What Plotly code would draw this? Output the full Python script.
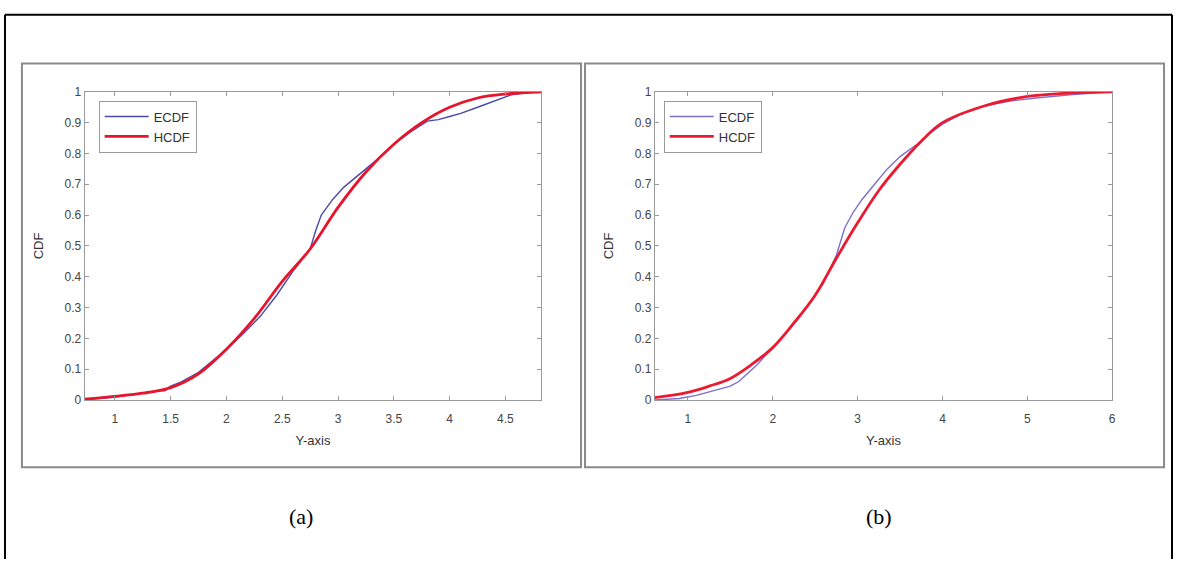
import plotly.graph_objects as go

# ---- data ----
a_hcdf_x = [0.73, 1.0, 1.25, 1.5, 1.75, 2.0, 2.25, 2.5, 2.75, 3.0, 3.25, 3.5, 3.75, 4.0, 4.25, 4.5, 4.82]
a_hcdf_y = [0.003, 0.012, 0.022, 0.04, 0.085, 0.165, 0.265, 0.385, 0.49, 0.625, 0.74, 0.83, 0.90, 0.95, 0.98, 0.993, 1.0]
a_ecdf_x = [0.73, 1.0, 1.2, 1.4, 1.45, 1.5, 1.6, 1.75, 1.9, 2.0, 2.15, 2.3, 2.45, 2.6, 2.75, 2.8, 2.85,
            2.95, 3.05, 3.15, 3.25, 3.35, 3.5, 3.65, 3.8, 3.9, 4.0, 4.1, 4.25, 4.4, 4.55, 4.7, 4.82]
a_ecdf_y = [0.0, 0.01, 0.02, 0.03, 0.03, 0.045, 0.06, 0.09, 0.135, 0.165, 0.215, 0.27, 0.34, 0.42, 0.49, 0.55, 0.60,
            0.65, 0.69, 0.72, 0.75, 0.78, 0.83, 0.87, 0.905, 0.91, 0.92, 0.93, 0.95, 0.97, 0.99, 0.998, 1.0]

b_hcdf_x = [0.61, 1.0, 1.25, 1.5, 1.75, 2.0, 2.25, 2.5, 2.75, 3.0, 3.25, 3.5, 3.75, 4.0, 4.5, 5.0, 5.5, 6.0]
b_hcdf_y = [0.008, 0.025, 0.045, 0.07, 0.115, 0.17, 0.25, 0.34, 0.46, 0.575, 0.68, 0.765, 0.84, 0.90, 0.955, 0.985, 0.996, 1.0]
b_ecdf_x = [0.61, 0.9, 1.1, 1.3, 1.5, 1.6, 1.8, 2.0, 2.2, 2.4, 2.6, 2.75, 2.85, 2.95, 3.05, 3.2, 3.35, 3.5,
            3.6, 3.7, 3.85, 4.0, 4.2, 4.5, 4.8, 5.1, 5.5, 5.8, 6.0]
b_ecdf_y = [0.0, 0.005, 0.015, 0.03, 0.045, 0.06, 0.11, 0.17, 0.23, 0.30, 0.38, 0.47, 0.56, 0.61, 0.65, 0.70, 0.75, 0.79,
            0.81, 0.83, 0.865, 0.895, 0.925, 0.955, 0.97, 0.98, 0.99, 0.997, 1.0]

y_ticks = [0, 0.1, 0.2, 0.3, 0.4, 0.5, 0.6, 0.7, 0.8, 0.9, 1]
y_ticklabels = ["0", "0.1", "0.2", "0.3", "0.4", "0.5", "0.6", "0.7", "0.8", "0.9", "1"]
a_xticks = [1, 1.5, 2, 2.5, 3, 3.5, 4, 4.5]
a_xticklabels = ["1", "1.5", "2", "2.5", "3", "3.5", "4", "4.5"]
b_xticks = [1, 2, 3, 4, 5, 6]
b_xticklabels = ["1", "2", "3", "4", "5", "6"]
captions = ["(a)", "(b)"]

W, H = 1178, 565
def px(x): return x / W
def py(y): return 1 - y / H

fig = go.Figure()
fig.add_trace(go.Scatter(x=a_ecdf_x, y=a_ecdf_y, mode="lines", name="ECDF",
                         line=dict(color="#4b4ba6", width=1.4), xaxis="x", yaxis="y", legend="legend"))
fig.add_trace(go.Scatter(x=a_hcdf_x, y=a_hcdf_y, mode="lines", name="HCDF",
                         line=dict(color="#e8142c", width=2.8, shape="spline"), xaxis="x", yaxis="y", legend="legend"))
fig.add_trace(go.Scatter(x=b_ecdf_x, y=b_ecdf_y, mode="lines", name="ECDF",
                         line=dict(color="#7b6fd0", width=1.4), xaxis="x2", yaxis="y2", legend="legend2"))
fig.add_trace(go.Scatter(x=b_hcdf_x, y=b_hcdf_y, mode="lines", name="HCDF",
                         line=dict(color="#ec1a30", width=2.8, shape="spline"), xaxis="x2", yaxis="y2", legend="legend2"))

SANS = "Liberation Sans, Arial"
font_axis = dict(family=SANS, size=12, color="#444")
title_font = dict(family=SANS, size=13, color="#333")
common_x = dict(showgrid=False, zeroline=False, showline=True, linecolor="#9a9a9a", linewidth=1,
                mirror="allticks", ticks="inside", ticklen=4, tickcolor="#9a9a9a",
                tickfont=font_axis, ticklabelstandoff=8)
common_y = dict(showgrid=False, zeroline=False, showline=True, linecolor="#9a9a9a", linewidth=1,
                mirror="allticks", ticks="inside", ticklen=4, tickcolor="#9a9a9a",
                tickfont=font_axis, tickvals=y_ticks, ticktext=y_ticklabels, range=[0, 1])

ydom = [py(403), py(87)]
legend_common = dict(xanchor="left", yanchor="top", bgcolor="white",
                     bordercolor="#9a9a9a", borderwidth=1, font=dict(family=SANS, size=13, color="#333"),
                     tracegroupgap=0, itemwidth=44)
fig.update_layout(
    width=W, height=H, margin=dict(l=0, r=0, t=0, b=0),
    paper_bgcolor="white", plot_bgcolor="white",
    xaxis=dict(common_x, domain=[px(85), px(543)], range=[0.73, 4.82], tickvals=a_xticks, ticktext=a_xticklabels,
               anchor="y", title=dict(text="Y-axis", font=title_font, standoff=10)),
    yaxis=dict(common_y, domain=ydom, anchor="x",
               title=dict(text="CDF", font=title_font, standoff=18)),
    xaxis2=dict(common_x, domain=[px(657), px(1116)], range=[0.61, 6.0], tickvals=b_xticks, ticktext=b_xticklabels,
                anchor="y2", title=dict(text="Y-axis", font=title_font, standoff=10)),
    yaxis2=dict(common_y, domain=ydom, anchor="x2",
                title=dict(text="CDF", font=title_font, standoff=18)),
    legend=dict(legend_common, x=px(99), y=py(96)),
    legend2=dict(legend_common, x=px(666), y=py(96)),
    showlegend=True,
)

shapes = [
    # outer black frame
    dict(type="line", xref="paper", yref="paper", x0=px(5), x1=px(1176), y0=py(8), y1=py(8), line=dict(color="black", width=2)),
    dict(type="line", xref="paper", yref="paper", x0=px(5), x1=px(5), y0=py(8), y1=py(566), line=dict(color="black", width=2)),
    dict(type="line", xref="paper", yref="paper", x0=px(1176), x1=px(1176), y0=py(8), y1=py(566), line=dict(color="black", width=2)),
    # panel frames
    dict(type="rect", xref="paper", yref="paper", x0=px(22), x1=px(583), y0=py(472), y1=py(58), line=dict(color="#8a8a8a", width=2)),
    dict(type="rect", xref="paper", yref="paper", x0=px(587), x1=px(1168), y0=py(472), y1=py(58), line=dict(color="#8a8a8a", width=2)),
]
fig.update_layout(shapes=shapes)

for cx, txt in zip([302, 882], captions):
    fig.add_annotation(x=px(cx), y=py(522), xref="paper", yref="paper", text=txt, showarrow=False,
                       xanchor="center", yanchor="middle",
                       font=dict(family="Liberation Serif, Times New Roman", size=22, color="black"))

fig.write_html("out.html", config={"displayModeBar": False},
               post_script="document.body.style.margin='0';document.body.style.overflow='hidden';")
